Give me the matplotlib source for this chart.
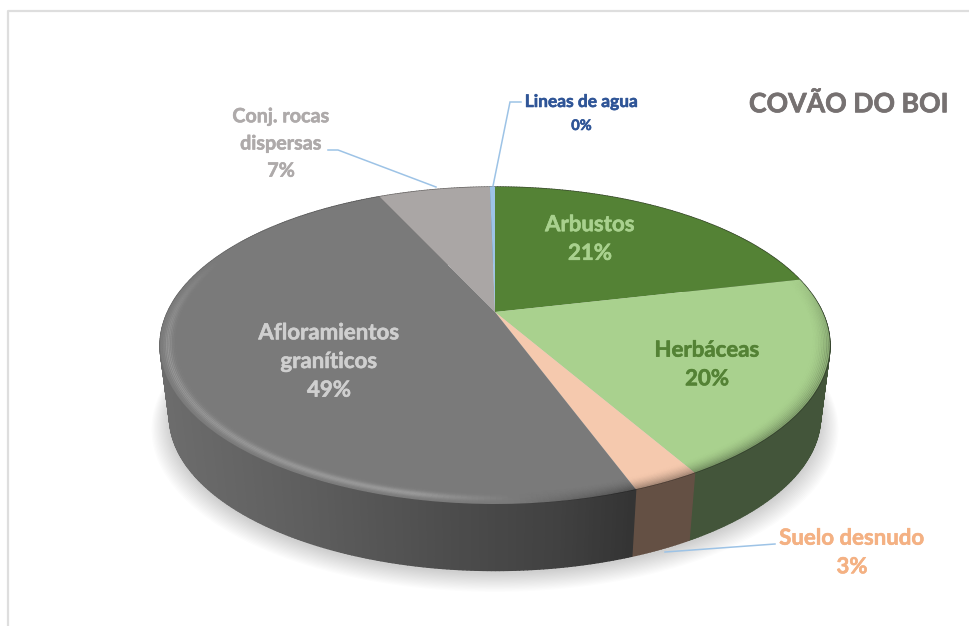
import numpy as np
import matplotlib
matplotlib.use("Agg")
import matplotlib.pyplot as plt
import matplotlib.patheffects as pe
from matplotlib.transforms import Transform
from matplotlib.collections import PolyCollection, LineCollection
from matplotlib.colors import to_rgb

plt.rcParams['font.family'] = ['Lato', 'DejaVu Sans']

categories = ["Arbustos", "Herbáceas", "Suelo desnudo", "Afloramientos\ngraníticos",
              "Conj. rocas\ndispersas", "Lineas de agua"]
values = [21.4, 20.3, 2.7, 48.7, 6.6, 0.3]
top_colors = ["#548235", "#A9D18E", "#F5C9AE", "#7A7A7A", "#AAA6A5", "#9DC3E6"]
wall_colors = ["#3E5030", "#43553A", "#645044", "#5A5A5A", "#6E6B6A", "#6A8299"]
label_colors = ["#A9D18E", "#548235", "#F4B183", "#CFCFCF", "#AEAAAA", "#2F5597"]
title = "COVÃO DO BOI"

# projection of the unit disc onto the page (pixels)
CX, CY, A, B, K = 495.0, 312.0, 327.4, 151.4, 0.211
DEPTH, BASE_SCALE = 72.0, 0.972


def project(u, v, scale=1.0, dy=0.0):
    d = 1 + K * v
    return CX + scale * A * u / d, CY + dy - scale * B * v / d


class Persp(Transform):
    input_dims = 2
    output_dims = 2
    is_separable = False

    def transform_non_affine(self, values):
        values = np.asarray(values, float)
        x, y = project(values[:, 0], values[:, 1])
        return np.column_stack([x, y])


fig = plt.figure(figsize=(9.7, 6.26), dpi=100)
ax = fig.add_axes([0, 0, 1, 1])

fractions = np.array(values) / sum(values)
edges = np.concatenate([[0], np.cumsum(fractions)]) * 2 * np.pi

# soft shadow below the disc
theta = np.linspace(0, 2 * np.pi, 240)
for i, extra in enumerate(np.linspace(0, 18, 16)):
    sx, sy = project(np.sin(theta), np.cos(theta),
                     BASE_SCALE + extra / 335.0, DEPTH + 3 + extra * 0.45)
    ax.fill(sx, sy, color="black", alpha=0.012, lw=0, zorder=1)


# side wall
def wall_shade(x, idx):
    if idx != 3:
        return 1.0
    return np.interp(x, [165, 300, 450, 560, 640],
                     [1.2, 1.05, 0.85, 0.72, 0.56])


quads, quad_colors = [], []
for idx, (a0, a1) in enumerate(zip(edges[:-1], edges[1:])):
    n = max(2, int((a1 - a0) / 0.01))
    ts = np.linspace(a0, a1, n + 1)
    base = np.array(to_rgb(wall_colors[idx]))
    for t0, t1 in zip(ts[:-1], ts[1:]):
        x00, y00 = project(np.sin(t0), np.cos(t0))
        x01, y01 = project(np.sin(t1), np.cos(t1))
        x10, y10 = project(np.sin(t0), np.cos(t0), BASE_SCALE, DEPTH)
        x11, y11 = project(np.sin(t1), np.cos(t1), BASE_SCALE, DEPTH)
        quads.append([(x00, y00), (x01, y01), (x11, y11), (x10, y10)])
        quad_colors.append(np.clip(base * wall_shade((x00 + x01) / 2, idx), 0, 1))
ax.add_collection(PolyCollection(quads, facecolors=quad_colors, edgecolors=quad_colors,
                                 linewidths=1.0, zorder=2))

# top surface: real pie wedges
wedges, _ = ax.pie(values, colors=top_colors, startangle=90, counterclock=False,
                   radius=1.0, wedgeprops=dict(linewidth=0))
persp = Persp() + ax.transData
for w in wedges:
    w.set_transform(persp)
    w.set_zorder(3)
    w.set_clip_on(False)

# bevel round the front rim
segs, cols = [], []
T0, T1 = np.pi * 0.42, np.pi * 1.62
ring_t = np.linspace(T0, T1, 260)
NR = 13
radii = np.linspace(1.0, 0.945, NR)
dark_prof = 0.34 * np.linspace(1, 0, NR) ** 2
light_prof = 0.22 * np.exp(-((np.linspace(0, 1, NR) - 0.42) / 0.22) ** 2)
for r, dk, lt in zip(radii, dark_prof, light_prof):
    for t0, t1 in zip(ring_t[:-1], ring_t[1:]):
        tm = (t0 + t1) / 2
        x0, y0 = project(r * np.sin(t0), r * np.cos(t0))
        x1, y1 = project(r * np.sin(t1), r * np.cos(t1))
        u = np.sin(tm)
        fade = np.clip((T1 - tm) / 0.6, 0, 1) * np.clip((tm - T0) / 0.5, 0, 1)
        if u < 0.05:
            mix = np.clip((0.05 - u) / 0.25, 0, 1)
            cols.append((1, 1, 1, lt * mix * fade))
        else:
            mix = np.clip((u - 0.05) / 0.3, 0, 1)
            cols.append((0, 0, 0, dk * mix * fade))
        segs.append([(x0, y0), (x1, y1)])
ax.add_collection(LineCollection(segs, colors=cols, linewidths=0.9, zorder=4,
                                 capstyle="butt"))

# leader lines
lead = "#9DC3E6"
for xs, ys in [([493, 510, 521], [186, 102, 102]),
               ([436, 338, 328], [187, 150, 150]),
               ([665, 775], [552, 544])]:
    ax.plot(xs, ys, color=lead, lw=1.1, zorder=5, solid_joinstyle="miter")


def heavy(col, w=0.4):
    return [pe.withStroke(linewidth=w, foreground=col)]


# labels
label_pos = [(590, 239), (707, 364.5), (852, 552.5), (329, 361.5), (281, 143.5), (581.5, 113)]
label_size = [16, 16, 16, 16, 14.2, 12.5]
for idx, (name, val, col, pos, fs) in enumerate(zip(categories, values, label_colors, label_pos, label_size)):
    pct = f"{val:.0f}%"
    if idx == 5:
        ax.text(pos[0], 102, name, color=col, fontsize=fs, fontweight="bold",
                ha="center", va="center", zorder=6, path_effects=heavy(col))
        ax.text(pos[0], 126, pct, color=col, fontsize=10.5, fontweight="bold",
                ha="center", va="center", zorder=6, path_effects=heavy(col))
    else:
        ax.text(pos[0], pos[1], f"{name}\n{pct}", color=col, fontsize=fs, fontweight="bold",
                ha="center", va="center", linespacing=1.45, zorder=6,
                path_effects=heavy(col))

ax.text(848.5, 104, title, color="#767171", fontsize=19.2, fontweight="bold",
        ha="center", va="center", zorder=6, path_effects=heavy("#767171", 0.5))

# chart frame
ax.plot([8, 8, 970], [626, 11, 11], color="#DEDEDE", lw=1.6, zorder=0)

ax.set_aspect("auto")
ax.set_xlim(0, 970)
ax.set_ylim(626, 0)
ax.axis("off")

fig.savefig("out.png", dpi=100, facecolor="white")
